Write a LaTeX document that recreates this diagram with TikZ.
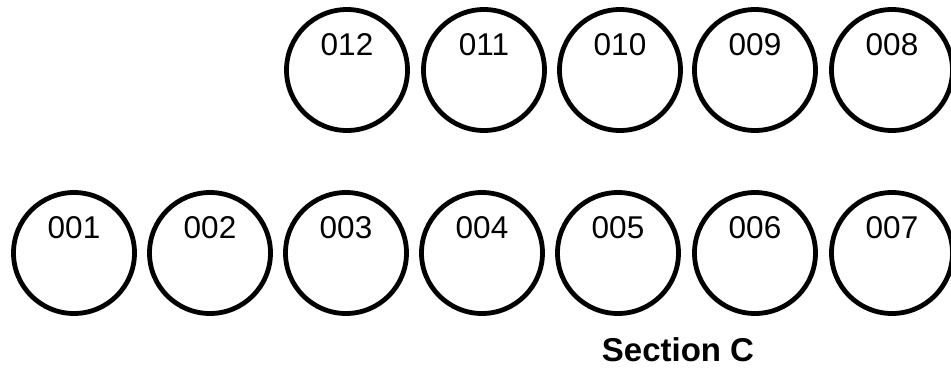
\documentclass[tikz,border=0pt]{standalone}
\usepackage{fontspec}
\setmainfont{Liberation Sans}
\begin{document}
\begin{tikzpicture}[x=1pt,y=-1pt,
  disc/.style={circle,draw=black,line width=4.8pt,minimum size=121pt,inner sep=0pt},
  lab/.style={font=\fontsize{31.5}{36}\selectfont,inner sep=0pt,anchor=center},
  title/.style={font=\bfseries\fontsize{33}{38}\selectfont,inner sep=0pt,anchor=center}]
\useasboundingbox (0,0) rectangle (951,368);
% bottom row
\foreach \n/\x in {001/74,002/210,003/346,004/482,005/618,006/755,007/892}{
  \node[disc] (c\n) at (\x,253) {};
  \node[lab] (t\n) at ([yshift=25pt]c\n.center) {\n};
}
% top row
\foreach \n/\x in {012/347,011/484,010/620,009/755,008/892}{
  \node[disc] (c\n) at (\x,70) {};
  \node[lab] (t\n) at ([yshift=25pt]c\n.center) {\n};
}
\node[title] (sec) at (678,350) {Section C};
\end{tikzpicture}
\end{document}
